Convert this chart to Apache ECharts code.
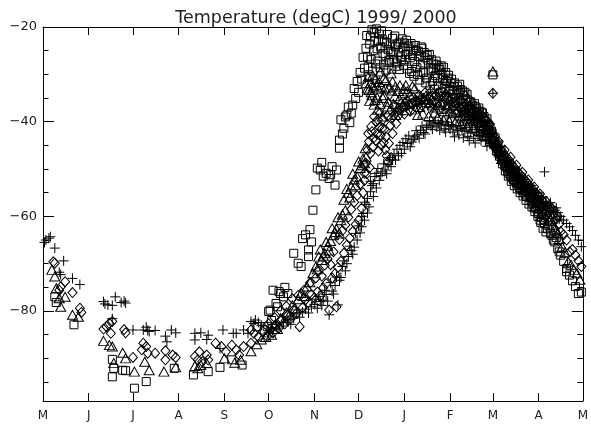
<!DOCTYPE html>
<html><head><meta charset="utf-8">
<script src="https://cdn.jsdelivr.net/npm/echarts@6/dist/echarts.min.js"></script>
<style>html,body{margin:0;padding:0;background:#fff}#c{width:591px;height:425px}</style>
</head><body><div id="c"></div>
<script>
// x = days since 1 May 1999
const monthStarts = [0,31,61,92,123,153,184,214,245,276,305,336,366];
const monthLabels = ['M','J','J','A','S','O','N','D','J','F','M','A','M'];
const yMajorTicks = [-80,-60,-40,-20];
const yMinorTicks = [-95,-90,-85,-75,-70,-65,-55,-50,-45,-35,-30,-25];
const titleText = 'Temperature (degC) 1999/ 2000';

const plusData = [
[1,-65.5],[2,-65.0],[4,-64.6],[5,-64.3],[8,-66.7],[11,-71.8],[12,-72.3],[14,-69.4],[20,-73.1],[25,-74.4],
[41,-78.0],[42,-78.5],[44,-78.7],[47,-81.6],[47,-78.8],[49,-77.0],[53,-78.2],[55,-77.9],[56,-78.3],
[61,-84.0],[68,-84.0],[70,-83.4],[71,-84.1],[72,-84.3],[76,-84.1],[83,-85.3],[84,-86.5],[87,-84.0],[90,-84.6],
[103,-84.7],[103,-86.1],[107,-84.6],[111,-86.0],[112,-85.1],[120,-87.9],[122,-84.0],
[129,-84.7],[131,-84.7],[136,-84.0],[139,-84.7],[141,-82.2],[143,-82.6],[144,-81.9],[146,-82.4],[148,-83.0],
[153,-84.5],[155,-83.5],[158,-82.8],[160,-83.6],[163,-82.4],[166,-81.9],[168,-82.8],[170,-81.5],[172,-80.6],[174,-81.3],[176,-80.2],[178,-79.6],[180,-80.4],[182,-79.1],
[184,-78.6],[186,-79.4],[188,-78.0],[190,-77.7],[192,-76.5],[194,-80.8],[196,-75.8],[198,-74.6],[200,-78.7],[201,-73.5],[203,-70.6],[205,-71.5],[207,-68.5],[209,-67.2],[211,-66.5],[213,-65.0],
[215,-63.5],[216,-62.2],[217,-59.4],[218,-60.8],[219,-57.5],[220,-56.2],[221,-58.0],[222,-54.8],[223,-53.5],[224,-55.8],[225,-51.6],[226,-50.9],[228,-52.4],[230,-50.6],[232,-50.2],[234,-49.0],[236,-49.5],[237,-48.1],[239,-48.1],[241,-47.2],[243,-46.7],
[245,-45.8],[247,-44.6],[249,-45.3],[251,-43.8],[252,-43.2],[254,-42.8],[256,-41.8],[258,-42.3],[260,-41.2],[261,-40.7],[263,-40.9],[265,-40.3],[267,-41.1],[268,-40.4],[270,-40.7],[272,-41.5],[274,-40.1],
[276,-41.6],[278,-42.2],[280,-41.0],[282,-42.8],[284,-41.5],[286,-42.0],[288,-43.1],[290,-42.4],[292,-43.5],[294,-42.2],[296,-43.0],[298,-42.6],[300,-44.1],[302,-43.8],[304,-45.0],
[305,-34.0],[306,-45.6],[308,-46.4],[310,-47.3],[312,-48.0],[314,-48.9],[316,-49.7],[318,-50.2],[320,-51.0],[322,-51.5],[324,-52.1],[326,-52.8],[328,-53.2],[330,-54.0],[332,-54.3],[334,-55.0],
[336,-55.6],[338,-56.1],[340,-50.6],[341,-56.9],[343,-57.4],[345,-58.0],[347,-58.7],[349,-59.2],[351,-60.0],[353,-60.8],[355,-61.5],[357,-62.2],[359,-63.0],[361,-64.0],[363,-65.0],[365,-66.4]
];
const plusExtra = [
[185,-77.5],[187,-76.9],[189,-78.8],[191,-75.6],[193,-77.9],[195,-74.0],[197,-76.4],[199,-72.8],[202,-72.9],[204,-69.4],[206,-70.0],[208,-66.3],[210,-68.0],[212,-63.6],[214,-62.0],[216,-60.0],[218,-57.0],[220,-59.3],[222,-52.6],[224,-53.1],[226,-54.0],[227,-49.9],[229,-51.4],[231,-48.9],[233,-51.0],[235,-47.6],[238,-46.8],[240,-45.8],[242,-45.0],[244,-44.4],
[246,-43.6],[248,-43.0],[250,-44.3],[253,-41.9],[255,-43.5],[257,-40.9],[259,-42.6],[262,-39.9],[264,-41.6],[266,-39.8],[269,-41.8],[271,-39.9],[273,-42.2],[275,-40.9],
[277,-40.6],[279,-43.2],[281,-41.9],[283,-40.8],[285,-43.4],[287,-41.2],[289,-44.0],[291,-41.6],[293,-44.5],[295,-42.8],[297,-44.0],[299,-43.0],[301,-45.2],[303,-44.6],
[307,-45.2],[309,-47.4],[311,-46.2],[313,-48.7],[315,-47.9],[317,-50.3],[319,-49.4],[321,-51.9],[323,-50.8],[325,-53.0],[327,-52.2],[329,-54.6],[331,-53.5],[333,-55.8],[335,-54.9],[337,-56.9],[339,-55.9],[342,-57.8],[344,-57.1],[346,-59.0],[348,-58.2],[350,-60.6]
];

const diamondData = [
[7,-69.6],[8,-69.9],[11,-75.6],[12,-74.9],[15,-73.8],[20,-76.1],[25,-79.4],[26,-80.3],
[41,-83.8],[43,-83.3],[45,-82.6],[46,-84.7],[47,-82.2],[55,-83.9],[56,-84.6],
[61,-89.8],[67,-88.2],[68,-86.8],[70,-87.5],[71,-88.9],[76,-88.9],[83,-88.4],[83,-90.3],[88,-89.3],[90,-89.8],
[103,-89.6],[105,-90.3],[106,-88.6],[108,-90.7],[111,-89.3],[112,-90.3],[117,-86.8],[121,-87.5],
[124,-88.6],[128,-87.2],[131,-88.2],[133,-89.3],[136,-87.5],[141,-86.8],[141,-84.0],[143,-84.7],[146,-85.5],[149,-84.3],
[152,-85.4],[154,-83.8],[156,-84.6],[158,-82.9],[160,-83.6],[162,-81.8],[164,-82.7],[166,-80.9],[168,-81.6],[170,-79.8],[172,-80.4],[174,-83.3],[176,-79.3],[178,-77.6],[180,-78.2],[182,-76.5],
[184,-77.2],[186,-76.0],[188,-76.8],[190,-75.1],[192,-74.2],[194,-79.8],[196,-73.0],[198,-72.1],[199,-79.1],[200,-70.8],[202,-69.5],[204,-67.8],[206,-66.1],[208,-64.6],[210,-63.2],[212,-61.7],[214,-60.8],
[216,-58.3],[217,-55.0],[218,-52.4],[218,-50.9],[219,-48.8],[220,-46.0],[221,-44.2],[222,-46.7],[223,-42.1],[224,-43.5],[226,-40.0],[227,-39.6],[228,-41.2],[229,-42.8],[230,-41.4],[231,-44.4],[232,-45.9],[233,-47.2],[234,-48.5],[236,-39.3],[236,-47.6],[238,-38.6],[240,-37.9],
[242,-37.5],[244,-37.0],[246,-36.8],[248,-36.5],[250,-36.2],[252,-35.8],[254,-35.9],[256,-35.4],[258,-35.1],[260,-35.3],[262,-34.8],[264,-34.6],[266,-34.4],[268,-34.9],[270,-34.7],[272,-35.0],[274,-35.1],
[276,-35.6],[278,-36.0],[280,-36.2],[282,-36.7],[284,-37.2],[286,-37.6],[288,-38.3],[290,-38.0],[292,-38.8],[294,-39.4],[296,-39.0],[298,-40.1],[300,-40.6],[302,-41.3],[304,-42.0],
[305,-34.0],[306,-43.2],[308,-44.6],[310,-45.8],[312,-46.5],[314,-47.4],[316,-48.1],[318,-49.0],[320,-49.8],[322,-50.6],[324,-51.3],[326,-52.0],[328,-52.8],[330,-53.5],[332,-54.3],[334,-55.0],
[336,-55.8],[338,-56.5],[340,-57.2],[342,-58.0],[344,-58.8],[346,-59.6],[348,-60.5],[350,-61.6],[351,-63.2],[353,-63.9],[355,-65.0],[357,-67.5],[359,-67.0],[361,-68.2],[363,-69.4],[365,-70.6]
];
const diamondExtra = [
[153,-82.7],[157,-81.4],[161,-80.0],[165,-79.0],[169,-77.4],[173,-76.7],[177,-75.6],[181,-74.1],[185,-73.0],[187,-71.5],[189,-72.6],[191,-70.3],[193,-69.0],[195,-70.2],[197,-67.5],[201,-64.9],[203,-63.0],[205,-61.8],[207,-60.2],[209,-58.5],[211,-57.0],[213,-55.6],[215,-53.2],
[219.5,-51.0],[220.5,-42.5],[221.5,-49.7],[222.5,-41.0],[223.5,-45.3],[224.5,-38.9],[225.5,-44.0],[226.5,-42.6],[227.5,-46.2],[228.5,-38.2],[229.5,-45.0],[230.5,-39.5],[231.5,-41.6],[232.5,-43.2],[233.5,-38.8],[234.5,-44.6],[235.5,-40.8],[237,-42.5],[238.5,-36.6],[239.5,-40.4],[241,-38.7],[243,-36.2],
[245,-38.4],[247,-35.6],[249,-37.8],[251,-34.9],[253,-37.0],[255,-34.4],[257,-36.6],[259,-33.9],[261,-36.2],[263,-33.6],[265,-35.8],[267,-36.1],[269,-33.9],[271,-36.4],[273,-34.2],[275,-36.7],
[277,-37.4],[279,-34.9],[281,-37.9],[283,-35.6],[285,-38.6],[287,-36.3],[289,-39.4],[291,-37.2],[293,-40.0],[295,-38.0],[297,-40.8],[299,-39.2],[301,-41.8],[303,-40.5],
[307,-45.0],[309,-44.2],[311,-47.2],[313,-46.0],[315,-48.7],[317,-47.5],[319,-50.3],[321,-49.2],[323,-51.8],[325,-50.7],[327,-53.2],[329,-52.3],[331,-54.6],[333,-53.8],[335,-56.3],[337,-55.3],[339,-57.8],[341,-56.8],[343,-59.2],[345,-58.4],[347,-60.9],[349,-60.0]
];

const triangleData = [
[6,-71.3],[8,-72.7],[9,-75.2],[11,-77.3],[12,-79.1],[15,-77.0],[20,-80.8],[24,-81.2],
[41,-86.3],[45,-87.2],[47,-87.5],[48,-91.0],[54,-88.8],[56,-90.0],
[62,-92.8],[69,-90.7],[72,-92.5],[82,-92.8],[90,-91.9],
[103,-91.6],[105,-92.1],[107,-91.4],[111,-91.0],
[123,-90.0],[130,-90.9],[134,-90.3],[141,-88.5],[145,-87.0],[148,-86.0],
[151,-85.5],[153,-84.5],[155,-85.0],[157,-83.0],[159,-83.8],[161,-81.5],[163,-82.2],[165,-80.3],[167,-80.8],[169,-78.8],[171,-79.4],[173,-77.5],[175,-76.2],[177,-76.8],[179,-74.8],[181,-73.9],[183,-72.0],
[185,-70.6],[187,-68.5],[189,-69.2],[191,-67.8],[193,-66.2],[195,-65.2],[197,-64.0],[199,-62.6],[201,-63.6],[202,-60.8],[204,-56.5],[205,-58.7],[207,-55.0],[209,-53.7],[211,-52.2],[213,-51.6],[215,-49.8],
[216,-49.2],[217,-47.8],[218,-48.8],[219,-47.4],[219,-31.9],[220,-33.0],[221,-33.3],[222,-31.9],[223,-34.4],[224,-32.6],[225,-35.4],[226,-32.3],[227,-37.5],[228,-31.6],[229,-29.4],[230,-38.9],[231,-30.8],[231,-34.4],[232,-33.0],[234,-35.8],[236,-29.8],[237,-31.5],[239,-38.6],[239,-32.6],[241,-33.5],[242,-32.3],[244,-34.0],
[246,-32.3],[247,-33.6],[249,-34.4],[251,-35.8],[252,-33.0],[254,-38.6],[256,-34.8],[258,-35.2],[260,-35.9],[262,-36.1],[264,-36.6],[266,-37.0],[268,-36.4],[270,-37.3],[272,-37.8],[274,-37.2],
[276,-37.8],[278,-38.2],[280,-38.0],[282,-38.7],[284,-39.1],[286,-38.8],[288,-39.5],[290,-39.9],[292,-39.6],[294,-40.3],[296,-40.8],[298,-41.2],[300,-41.5],[302,-42.3],[304,-42.8],
[305,-29.4],[306,-43.9],[308,-45.2],[310,-46.5],[312,-47.3],[314,-48.4],[316,-49.4],[318,-50.1],[320,-51.0],[322,-51.7],[324,-52.4],[326,-53.2],[328,-53.9],[330,-54.6],[332,-55.4],[334,-56.2],
[336,-57.0],[338,-57.8],[340,-58.6],[342,-59.5],[344,-60.5],[346,-61.8],[348,-63.0],[350,-64.8],[352,-66.4],[354,-67.6],[356,-69.6],[358,-70.2],[360,-71.3],[362,-72.0],[364,-73.4]
];
const triangleExtra = [
[186,-71.2],[188,-67.0],[190,-68.3],[192,-65.4],[194,-67.2],[196,-62.5],[198,-63.3],[200,-60.2],[203,-59.6],[206,-54.2],[208,-56.0],[210,-51.0],[212,-53.4],[214,-48.4],
[218.5,-45.6],[220.5,-30.5],[221.5,-35.6],[222.5,-33.8],[223.5,-30.2],[224.5,-36.4],[225.5,-31.0],[226.5,-34.9],[227.5,-33.0],[228.5,-36.2],[229.5,-32.6],[230.5,-35.0],[232.5,-31.2],[233.5,-36.8],[234.5,-32.8],[235.5,-37.4],[236.5,-33.4],[237.5,-36.2],[238.5,-34.6],[240.5,-37.0],[241.5,-35.2],[243.5,-36.6],[244.5,-33.1],
[245.5,-35.8],[246.5,-37.6],[248.5,-36.2],[250.5,-32.5],[252.5,-37.4],[253.5,-35.5],[255.5,-36.9],[257.5,-38.3],[259.5,-34.6],[261.5,-38.8],[263.5,-35.4],[265.5,-38.1],[267.5,-39.2],[269.5,-35.9],[271.5,-39.6],[273.5,-36.5],[275.5,-39.9],
[277.5,-36.6],[279.5,-40.2],[281.5,-37.4],[283.5,-40.6],[285.5,-38.0],[287.5,-41.0],[289.5,-38.6],[291.5,-41.3],[293.5,-39.2],[295.5,-42.0],[297.5,-40.0],[299.5,-42.8],[301.5,-41.0],[303.5,-43.6],
[307,-44.2],[309,-46.0],[311,-47.9],[313,-47.0],[315,-49.2],[317,-49.0],[319,-51.4],[321,-50.5],[323,-52.8],[325,-52.0],[327,-54.3],[329,-53.5],[331,-55.8],[333,-55.0],[335,-57.3],[337,-56.5],[339,-59.0],[341,-58.2],[343,-61.0],[345,-60.0],[347,-62.8],[349,-63.5]
];

const squareData = [
[8,-77.0],[9,-78.2],[21,-82.9],
[47,-90.2],[47,-93.9],[48,-92.1],[54,-92.5],[56,-92.6],
[62,-96.3],[70,-94.9],[89,-92.1],
[102,-93.5],[112,-92.8],[120,-91.9],
[128,-90.3],[135,-91.4],[145,-83.3],[150,-84.0],
[152,-83.3],[153,-80.1],[154,-79.8],[156,-75.6],[158,-78.4],[159,-79.1],[160,-75.9],[161,-76.3],[163,-77.0],[166,-76.3],[170,-67.8],[173,-69.9],[175,-70.6],[178,-63.9],[180,-67.1],[180,-68.5],[182,-65.4],[183,-58.7],
[185,-54.4],[186,-49.8],[188,-50.2],[190,-51.5],[192,-50.9],[194,-52.0],[196,-49.5],[198,-53.4],[199,-50.2],[201,-43.9],[201,-45.6],[202,-39.6],[204,-41.4],[206,-38.6],[208,-40.2],[210,-36.5],[212,-35.1],
[214,-33.8],[216,-31.0],[218,-28.7],[219,-24.5],[220,-26.3],[221,-30.5],[222,-22.1],[223,-20.6],[224,-25.0],[225,-23.0],[226,-20.4],[227,-27.2],[228,-21.5],[229,-24.2],[230,-22.6],[231,-28.0],[232,-26.1],[233,-23.4],[234,-24.8],[235,-27.5],[236,-25.2],[237,-22.4],[238,-26.8],[239,-24.2],[240,-28.3],[241,-25.4],[242,-23.2],[243,-27.0],[244,-24.4],
[245,-23.4],[246,-25.8],[247,-28.9],[248,-24.0],[249,-26.5],[250,-29.4],[251,-24.8],[252,-27.3],[253,-25.0],[254,-30.0],[255,-26.2],[256,-28.0],[257,-24.5],[258,-29.6],[259,-26.5],[260,-30.8],[261,-27.0],[262,-25.8],[263,-29.1],[264,-31.5],[265,-27.8],[266,-30.2],[267,-28.0],[268,-32.3],[269,-29.0],[270,-28.2],[271,-31.0],[272,-33.0],[273,-29.6],[274,-31.5],[275,-30.2],
[276,-33.5],[277,-31.0],[278,-34.0],[279,-31.8],[280,-35.2],[281,-32.5],[282,-34.0],[283,-33.2],[284,-36.1],[285,-34.5],[286,-33.8],[287,-36.8],[288,-35.4],[289,-37.2],[290,-35.8],[291,-36.5],[292,-38.0],[293,-36.8],[294,-37.3],[295,-38.5],[296,-37.8],[297,-39.0],[298,-38.2],[299,-38.9],[300,-40.0],[301,-39.4],[302,-40.8],[303,-41.2],[304,-42.0],
[305,-30.1],[305,-43.0],[306,-44.2],[307,-45.0],[308,-45.6],[309,-46.4],[310,-47.0],[311,-47.8],[312,-48.3],[313,-49.2],[314,-49.6],[315,-50.5],[316,-50.9],[317,-51.3],[318,-51.8],[319,-52.2],[320,-52.5],[321,-53.0],[322,-53.4],[323,-53.9],[324,-54.2],[325,-54.5],[326,-54.9],[327,-55.3],[328,-55.8],[330,-56.0],[331,-56.8],[332,-57.2],[333,-58.2],[334,-58.0],[335,-58.5],
[336,-59.4],[337,-60.8],[338,-60.2],[339,-62.5],[340,-61.5],[342,-62.6],[344,-63.6],[345,-64.0],[347,-65.4],[349,-66.8],[350,-67.5],[351,-68.2],[353,-69.5],[355,-71.0],[355,-71.7],[357,-72.4],[359,-73.6],[361,-74.8],[363,-76.3],[365,-76.0]
];
const squareExtra = [
[155,-82.0],[164,-75.0],[176,-64.7],[181,-62.8],[189,-48.6],[195,-51.2],[203,-42.6],[205,-39.0],[207,-36.9],[209,-38.2],[211,-33.0],[213,-31.5],[215,-29.6],[217,-26.4],
[219.5,-21.8],[220.5,-28.4],[221.5,-23.6],[222.5,-26.9],[223.5,-29.3],[224.5,-21.2],[225.5,-27.8],[226.5,-24.6],[227.5,-22.9],[228.5,-28.6],[229.5,-20.8],[230.5,-25.6],[231.5,-23.0],[232.5,-29.1],[233.5,-21.6],[234.5,-27.0],[235.5,-23.8],[236.5,-28.9],[237.5,-25.5],[238.5,-21.9],[239.5,-27.6],[240.5,-23.6],[241.5,-29.0],[242.5,-26.3],[243.5,-22.5],[244.5,-28.1],
[245.5,-26.9],[246.5,-22.8],[247.5,-25.2],[248.5,-29.8],[249.5,-23.5],[250.5,-26.0],[251.5,-30.4],[252.5,-23.9],[253.5,-28.6],[254.5,-25.1],[255.5,-31.2],[256.5,-24.2],[257.5,-27.6],[258.5,-25.4],[259.5,-31.8],[260.5,-26.0],[261.5,-29.5],[262.5,-32.4],[263.5,-26.9],[264.5,-28.8],[265.5,-33.1],[266.5,-27.2],[267.5,-30.9],[268.5,-28.6],[269.5,-33.8],[270.5,-30.0],[271.5,-28.5],[272.5,-31.9],[273.5,-34.6],[274.5,-30.8],[275.5,-33.2],
[276.5,-31.9],[277.5,-35.0],[278.5,-32.6],[279.5,-36.0],[280.5,-33.4],[281.5,-35.6],[282.5,-32.1],[283.5,-36.9],[284.5,-33.5],[285.5,-37.4],[286.5,-35.2],[287.5,-34.2],[288.5,-38.1],[289.5,-35.9],[290.5,-37.6],[291.5,-39.0],[292.5,-36.2],[293.5,-38.7],[294.5,-39.8],[295.5,-37.1],[296.5,-40.2],[297.5,-38.0],[298.5,-41.0],[299.5,-39.7],[300.5,-41.8],[301.5,-40.5],[302.5,-42.5],[303.5,-43.3],[304.5,-42.4],
[305.5,-44.6],[306.5,-43.4],[307.5,-46.2],[308.5,-44.9],[309.5,-47.3],[310.5,-46.1],[311.5,-48.9],[312.5,-47.5],[313.5,-50.4],[314.5,-48.7],[315.5,-51.5],[316.5,-49.8],[317.5,-52.6],[318.5,-50.6],[319.5,-53.5],[320.5,-51.7],[321.5,-54.2],[322.5,-52.4],[323.5,-55.0],[324.5,-53.2],[325.5,-55.7],[326.5,-53.8],[327.5,-56.6],[328.5,-54.6],[329.5,-57.4],[330.5,-55.2],[331.5,-58.0],[332.5,-56.1],[333.5,-59.0],[334.5,-57.0],[335.5,-60.0],[336.5,-58.2],[337.5,-61.3],[338.5,-59.4],[339.5,-60.6],[341,-63.3],[343,-62.0],[346,-65.0],[348,-64.5]
];

const FONT = 'DejaVu Sans';
const INK = '#000';
const Y_MIN = -99, Y_MAX = -20;

function yAxisDef(position, ticks, len, showLine, labels) {
  return {
    type: 'value', position: position, min: Y_MIN, max: Y_MAX,
    axisLine: { show: showLine, onZero: false, lineStyle: { color: INK, width: 1 } },
    axisTick: { show: true, inside: true, length: len, customValues: ticks, lineStyle: { color: INK, width: 1 } },
    axisLabel: labels ? {
      show: true, customValues: ticks, margin: 6,
      formatter: v => String(v).replace('-', '\u2212'),
      fontFamily: FONT, fontSize: 13, color: '#222'
    } : { show: false },
    splitLine: { show: false }, minorTick: { show: false }
  };
}
function xAxisDef(position, labels) {
  return {
    type: 'value', position: position, min: 0, max: 366,
    axisLine: { show: true, onZero: false, lineStyle: { color: INK, width: 1 } },
    axisTick: { show: true, inside: true, length: 8, customValues: monthStarts, lineStyle: { color: INK, width: 1 } },
    axisLabel: labels ? {
      show: true, customValues: monthStarts, margin: 9,
      formatter: v => monthLabels[monthStarts.indexOf(v)],
      fontFamily: FONT, fontSize: 12, color: '#222'
    } : { show: false },
    splitLine: { show: false }
  };
}
function scatter(name, data, symbol, size) {
  return {
    type: 'scatter', name: name, data: data, symbol: symbol, symbolSize: size,
    xAxisIndex: 0, yAxisIndex: 0, silent: true, animation: false, clip: false,
    itemStyle: { color: 'rgba(0,0,0,0)', borderColor: INK, borderWidth: 1, opacity: 1 }
  };
}

const chart = echarts.init(document.getElementById('c'), null, { renderer: 'canvas' });
chart.setOption({
  animation: false,
  backgroundColor: '#fff',
  title: {
    text: titleText, left: 311, textAlign: 'center', top: 4,
    textStyle: { fontFamily: FONT, fontSize: 17.5, fontWeight: 'normal', color: '#222' }
  },
  grid: { left: 43, right: 1, top: 27, bottom: 24, containLabel: false },
  xAxis: [ xAxisDef('bottom', true), xAxisDef('top', false) ],
  yAxis: [
    yAxisDef('left', yMajorTicks, 11, true, true),
    yAxisDef('left', yMinorTicks, 5.5, false, false),
    yAxisDef('right', yMajorTicks, 11, true, false),
    yAxisDef('right', yMinorTicks, 5.5, false, false)
  ],
  series: [
    scatter('square', squareData.concat(squareExtra), 'rect', 8),
    scatter('triangle', triangleData.concat(triangleExtra), 'triangle', [10, 9]),
    scatter('diamond', diamondData.concat(diamondExtra), 'diamond', [9, 10]),
    scatter('plus', plusData.concat(plusExtra), 'path://M0,5L10,5M5,0L5,10', 10)
  ]
});
</script></body></html>
